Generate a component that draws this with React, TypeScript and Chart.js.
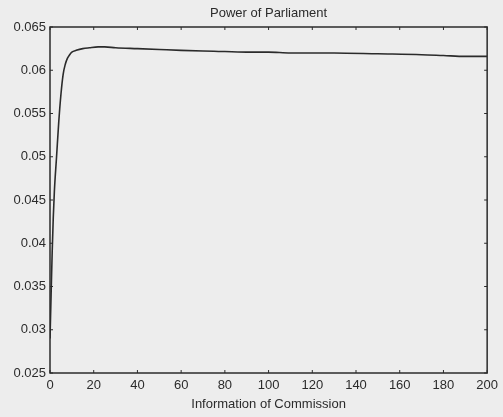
import React, { useEffect, useRef } from "react";
import { Chart, registerables } from "chart.js";

Chart.register(...registerables);

const titleText = "Power of Parliament";
const xAxisLabel = "Information of Commission";
const xTickValues = [0, 20, 40, 60, 80, 100, 120, 140, 160, 180, 200];
const yTickValues = [0.025, 0.03, 0.035, 0.04, 0.045, 0.05, 0.055, 0.06, 0.065];

const xValues = [0, 0.5, 1, 1.5, 2, 3, 4, 5, 6, 7, 8, 9, 10, 12, 15, 18, 22, 25, 30, 40, 50, 60, 75, 90, 100, 110, 130, 150, 170, 180, 190, 200];
const yValues = [0.029, 0.034, 0.039, 0.043, 0.046, 0.050, 0.054, 0.0572, 0.0595, 0.0607, 0.0614, 0.0618, 0.0621, 0.0623, 0.0625, 0.0626, 0.0627, 0.0627, 0.0626, 0.0625, 0.0624, 0.0623, 0.0622, 0.0621, 0.0621, 0.0620, 0.0620, 0.0619, 0.0618, 0.0617, 0.0616, 0.0616];

const BG = "#ededed";
const INK = "#2b2b2b";
const FONT_FAMILY = "'Liberation Sans', Arial, sans-serif";

const framePlugin = {
  id: "frame",
  beforeDraw(chart: any) {
    const { ctx, width, height } = chart;
    ctx.save();
    ctx.fillStyle = BG;
    ctx.fillRect(0, 0, width, height);
    ctx.restore();
  },
  afterDatasetsDraw(chart: any) {
    const { ctx, chartArea } = chart;
    const { left, right, top, bottom } = chartArea;
    const xs = chart.scales.x;
    const ys = chart.scales.y;
    ctx.save();
    ctx.strokeStyle = INK;
    ctx.lineWidth = 1.5;
    ctx.strokeRect(left, top, right - left, bottom - top);
    ctx.lineWidth = 1;
    ctx.beginPath();
    const tl = 3;
    xTickValues.forEach((v) => {
      const px = xs.getPixelForValue(v);
      ctx.moveTo(px, bottom);
      ctx.lineTo(px, bottom - tl);
      ctx.moveTo(px, top);
      ctx.lineTo(px, top + tl);
    });
    yTickValues.forEach((v) => {
      const py = ys.getPixelForValue(v);
      ctx.moveTo(left, py);
      ctx.lineTo(left + tl, py);
      ctx.moveTo(right, py);
      ctx.lineTo(right - tl, py);
    });
    ctx.stroke();
    ctx.fillStyle = INK;
    ctx.font = `13px ${FONT_FAMILY}`;
    ctx.textAlign = "center";
    ctx.textBaseline = "middle";
    ctx.fillText(titleText, (left + right) / 2, 13);
    ctx.restore();
  },
};

export default function App() {
  const ref = useRef<HTMLCanvasElement | null>(null);
  useEffect(() => {
    if (!ref.current) return;
    const data = xValues.map((x, i) => ({ x, y: yValues[i] }));
    const font = { family: FONT_FAMILY, size: 13 };
    const chart = new Chart(ref.current, {
      type: "line",
      data: {
        datasets: [
          {
            data,
            borderColor: INK,
            borderWidth: 1.6,
            pointRadius: 0,
            cubicInterpolationMode: "monotone",
            fill: false,
          },
        ],
      },
      options: {
        animation: false,
        responsive: false,
        maintainAspectRatio: false,
        layout: { padding: { left: 0, right: 15, top: 27, bottom: 0 } },
        plugins: {
          legend: { display: false },
          tooltip: { enabled: false },
          title: { display: false },
        },
        scales: {
          x: {
            type: "linear",
            min: 0,
            max: 200,
            afterBuildTicks(scale: any) {
              scale.ticks = xTickValues.map((v) => ({ value: v }));
            },
            afterFit(scale: any) {
              scale.height = 44;
            },
            grid: { display: false, drawTicks: false },
            border: { display: false },
            ticks: {
              color: INK,
              font,
              padding: 5,
              maxRotation: 0,
              autoSkip: false,
              callback: (v: any) => String(v),
            },
            title: {
              display: true,
              text: xAxisLabel,
              color: INK,
              font,
              padding: { top: 3, bottom: 5 },
            },
          },
          y: {
            type: "linear",
            min: 0.025,
            max: 0.065,
            afterBuildTicks(scale: any) {
              scale.ticks = yTickValues.map((v) => ({ value: v }));
            },
            afterFit(scale: any) {
              scale.width = 50;
            },
            grid: { display: false, drawTicks: false },
            border: { display: false },
            ticks: {
              color: INK,
              font,
              padding: 4,
              autoSkip: false,
              callback: (v: any) => String(Number(Number(v).toFixed(3))),
            },
          },
        },
      },
      plugins: [framePlugin],
    } as any);
    return () => chart.destroy();
  }, []);
  return (
    <div style={{ position: "fixed", left: 0, top: 0, width: 503, height: 417, background: BG }}>
      <canvas ref={ref} width={503} height={417} style={{ display: "block", width: 503, height: 417 }} />
    </div>
  );
}
